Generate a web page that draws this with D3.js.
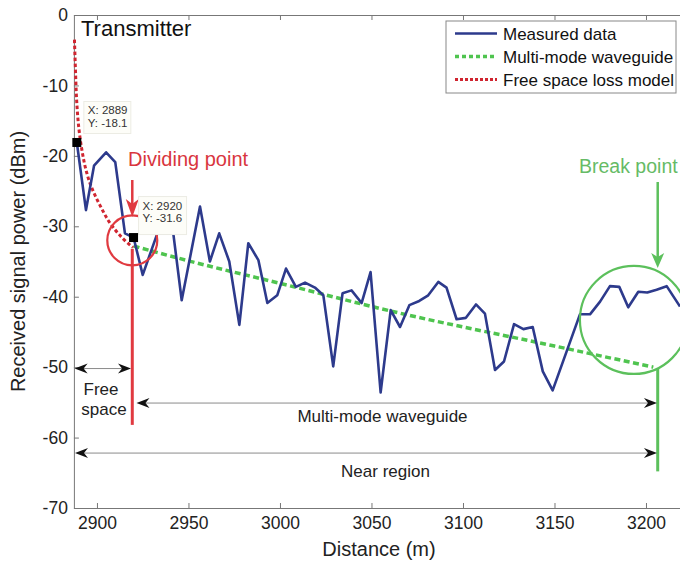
<!DOCTYPE html>
<html>
<head>
<meta charset="utf-8">
<script src="https://cdn.jsdelivr.net/npm/d3@7"></script>
<style>
  body { margin: 0; background: #fff; }
  svg text { font-family: "Liberation Sans", Arial, sans-serif; }
  .axis path, .axis line { stroke: #777; }
  .axis text { fill: #222; font-size: 17.5px; }
</style>
</head>
<body>
<div id="chart"></div>
<script>
// measured received power along the tunnel
const measuredDistance = [2889, 2894, 2898.4, 2905, 2910, 2915.3, 2920, 2925, 2933, 2941.7,
  2946.3, 2956.3, 2961.7, 2966.8, 2972.3, 2977.8, 2982.7, 2988.2, 2993.1, 2998.5,
  3003.3, 3008.7, 3013.7, 3019.1, 3023.7, 3029.1, 3034.2, 3039.1, 3044.6, 3049.5,
  3055, 3060.5, 3065.6, 3070.7, 3076.1, 3081, 3086.5, 3091, 3096.5, 3101.6,
  3107.1, 3112, 3117.5, 3122.4, 3127.9, 3133, 3138.1, 3143.6, 3149, 3163.9,
  3169.4, 3174.9, 3180.3, 3185.4, 3190.3, 3195.8, 3200.7, 3205.8, 3211.3, 3218.6];
const measuredPower = [-18.1, -27.7, -21.4, -19.5, -20.9, -31, -31.6, -36.9, -31, -31,
  -40.5, -27.2, -35, -31, -35, -44, -32.4, -34.8, -40.9, -39.8,
  -36, -38.6, -38, -38.7, -39.8, -49.9, -39.5, -39.1, -40.9, -36.5,
  -53.6, -41.9, -44.3, -41.2, -40.6, -39.8, -37.9, -38.7, -43.2, -43,
  -41.1, -42.4, -50.4, -49.2, -43.9, -44.6, -44.3, -50.6, -53.3, -42.5,
  -42.5, -40.7, -38.5, -38.6, -41.5, -39.3, -39.4, -39, -38.5, -41.4];

// free space loss model (red dashed)
const freeSpaceDistance = [2887.7, 2888.25, 2888.9, 2890.2, 2891.8, 2894, 2896.2, 2901.6, 2908.7, 2916.9, 2919.7];
const freeSpacePower = [-3.5, -7.8, -12.1, -16.3, -19.2, -22, -23.9, -27, -30.1, -32.4, -33];

// multi-mode waveguide model (green dashed)
const waveguideDistance = [2920, 2950, 3000, 3060, 3150, 3204];
const waveguidePower = [-32.8, -34.9, -38.1, -42, -47, -50];

// data tips
const tipDistance = [2889, 2920];
const tipPower = [-18.1, -31.6];

const xTicks = [2900, 2950, 3000, 3050, 3100, 3150, 3200];
const yTicks = [0, -10, -20, -30, -40, -50, -60, -70];

const legendItems = ["Measured data", "Multi-mode waveguide", "Free space loss model"];

const blue = "#2d3a8c";
const red = "#d62f36";
const green = "#5cc05c";

const arrowHead = (g, px, py, angle, color, len, half, notch) => {
  g.append("path")
    .attr("d", `M0,0L${-len},${-half}L${-notch},0L${-len},${half}Z`)
    .attr("transform", `translate(${px},${py}) rotate(${angle})`)
    .attr("fill", color);
};

const drawChart = () => {
  const svg = d3.select("#chart").append("svg")
    .attr("width", 680).attr("height", 564);

  const x = d3.scaleLinear().domain([2887.4, 3220]).range([73.9, 682.6]);
  const y = d3.scaleLinear().domain([-70, 0]).range([508, 15]);

  // axes (MATLAB style box with inward ticks)
  svg.append("g").attr("class", "axis")
    .attr("transform", "translate(0,508)")
    .call(d3.axisBottom(x).tickValues(xTicks).tickFormat(d => String(d))
      .tickSize(-5).tickSizeOuter(0).tickPadding(9));
  svg.append("g").attr("class", "axis")
    .attr("transform", "translate(73.9,0)")
    .call(d3.axisLeft(y).tickValues(yTicks).tickFormat(d => String(d))
      .tickSize(-5).tickSizeOuter(0).tickPadding(6));
  svg.append("g").attr("class", "axis")
    .attr("transform", "translate(0,15)")
    .call(d3.axisTop(x).tickValues(xTicks).tickSize(-5).tickSizeOuter(0).tickFormat(""));

  svg.append("text")
    .attr("x", 379).attr("y", 556)
    .attr("text-anchor", "middle")
    .attr("font-size", 20).attr("fill", "#222")
    .text("Distance (m)");
  svg.append("text")
    .attr("transform", "translate(25,261.5) rotate(-90)")
    .attr("text-anchor", "middle")
    .attr("font-size", 20).attr("fill", "#222")
    .text("Received signal power (dBm)");

  // model curves
  const line = d3.line().x(d => x(d[0])).y(d => y(d[1]));

  svg.append("path")
    .datum(d3.zip(waveguideDistance, waveguidePower))
    .attr("d", line.curve(d3.curveMonotoneX))
    .attr("fill", "none").attr("stroke", "#4fc44f")
    .attr("stroke-width", 3.5).attr("stroke-dasharray", "6,3.5");

  svg.append("path")
    .datum(d3.zip(freeSpaceDistance, freeSpacePower))
    .attr("d", d3.line().x(d => x(d[0])).y(d => y(d[1])).curve(d3.curveMonotoneY))
    .attr("fill", "none").attr("stroke", "#d02530")
    .attr("stroke-width", 3).attr("stroke-dasharray", "3.5,2.5");

  svg.append("path")
    .datum(d3.zip(measuredDistance, measuredPower))
    .attr("d", d3.line().x(d => x(d[0])).y(d => y(d[1])))
    .attr("fill", "none").attr("stroke", blue)
    .attr("stroke-width", 2.6).attr("stroke-linejoin", "round");

  // dividing / break point marks
  const divX = 2919.3, breakX = 3206.4;
  svg.append("line")
    .attr("x1", x(divX)).attr("x2", x(divX))
    .attr("y1", y(-33.2)).attr("y2", y(-58.2))
    .attr("stroke", "#e03a40").attr("stroke-width", 3);
  svg.append("line")
    .attr("x1", x(breakX)).attr("x2", x(breakX))
    .attr("y1", y(-50.2)).attr("y2", y(-64.8))
    .attr("stroke", green).attr("stroke-width", 3);

  svg.append("circle")
    .attr("cx", x(2919.3)).attr("cy", y(-32.0)).attr("r", 25)
    .attr("fill", "none").attr("stroke", "#e03a40").attr("stroke-width", 2.2);
  svg.append("circle")
    .attr("cx", x(3193.4)).attr("cy", y(-43.3)).attr("r", 54)
    .attr("fill", "none").attr("stroke", green).attr("stroke-width", 2.2);

  // pointer arrows
  svg.append("line")
    .attr("x1", x(divX)).attr("x2", x(divX))
    .attr("y1", 180).attr("y2", 205)
    .attr("stroke", "#e03a40").attr("stroke-width", 2.5);
  arrowHead(svg, x(divX), 217, 90, "#e03a40", 18, 6.5, 13);
  svg.append("line")
    .attr("x1", x(breakX)).attr("x2", x(breakX))
    .attr("y1", 182).attr("y2", 258)
    .attr("stroke", green).attr("stroke-width", 2.5);
  arrowHead(svg, x(breakX), 268, 90, green, 15, 6.5, 11);

  svg.append("text")
    .attr("x", 128).attr("y", 166)
    .attr("font-size", 20).attr("fill", "#d9363e")
    .text("Dividing point");
  svg.append("text")
    .attr("x", 579).attr("y", 173)
    .attr("font-size", 19.5).attr("fill", "#66bb66")
    .text("Break point");

  // region arrows
  const regions = [
    { y: -50.2, x1: 2887.8, x2: 2918.6 },
    { y: -55.1, x1: 2921.6, x2: 3206 },
    { y: -62.2, x1: 2888, x2: 3206 }
  ];
  regions.forEach(r => {
    svg.append("line")
      .attr("x1", x(r.x1) + 4).attr("x2", x(r.x2) - 4)
      .attr("y1", y(r.y)).attr("y2", y(r.y))
      .attr("stroke", "#8a8a8a").attr("stroke-width", 1);
    arrowHead(svg, x(r.x1), y(r.y), 180, "#111", 13, 5, 9);
    arrowHead(svg, x(r.x2), y(r.y), 0, "#111", 13, 5, 9);
  });

  const note = (tx, ty, s) => svg.append("text")
    .attr("x", tx).attr("y", ty)
    .attr("text-anchor", "middle")
    .attr("font-size", 17).attr("fill", "#222")
    .text(s);
  note(101, 395, "Free");
  note(104, 415, "space");
  note(382.5, 422, "Multi-mode waveguide");
  note(385.5, 477, "Near region");

  svg.append("text")
    .attr("x", 81).attr("y", 36)
    .attr("font-size", 22).attr("fill", "#111")
    .text("Transmitter");

  // data tips
  const tipBox = [
    { dx: 7, dy: -41, w: 47, h: 32 },
    { dx: 5, dy: -41, w: 48, h: 38 }
  ];
  tipDistance.forEach((d, i) => {
    const px = x(d), py = y(tipPower[i]);
    const b = tipBox[i];
    svg.append("rect")
      .attr("x", px + b.dx).attr("y", py + b.dy)
      .attr("width", b.w).attr("height", b.h)
      .attr("fill", "#fdfdf8").attr("stroke", "#ecece4");
    svg.append("text")
      .attr("x", px + b.dx + 4).attr("y", py + b.dy + 13)
      .attr("font-size", 11.5).attr("fill", "#333")
      .text(`X: ${d}`);
    svg.append("text")
      .attr("x", px + b.dx + 4).attr("y", py + b.dy + 25.5)
      .attr("font-size", 11.5).attr("fill", "#333")
      .text(`Y: ${tipPower[i]}`);
    svg.append("rect")
      .attr("x", px - 4.5).attr("y", py - 4.5)
      .attr("width", 9).attr("height", 9)
      .attr("fill", "#000");
  });

  // legend
  const lg = svg.append("g").attr("transform", "translate(446,21)");
  lg.append("rect")
    .attr("width", 230).attr("height", 72)
    .attr("fill", "#fff").attr("stroke", "#888");
  const styles = [
    { stroke: blue, dash: null, w: 2.5 },
    { stroke: "#4fc44f", dash: "4,3", w: 3.5 },
    { stroke: "#d02530", dash: "3,2", w: 3 }
  ];
  legendItems.forEach((name, i) => {
    const cy = 12.5 + i * 23;
    lg.append("line")
      .attr("x1", 9).attr("x2", 51)
      .attr("y1", cy).attr("y2", cy)
      .attr("stroke", styles[i].stroke)
      .attr("stroke-width", styles[i].w)
      .attr("stroke-dasharray", styles[i].dash);
    lg.append("text")
      .attr("x", 57).attr("y", cy + 6.5)
      .attr("font-size", 17).attr("fill", "#111")
      .text(name);
  });
};

window.onload = drawChart;
</script>
</body>
</html>
